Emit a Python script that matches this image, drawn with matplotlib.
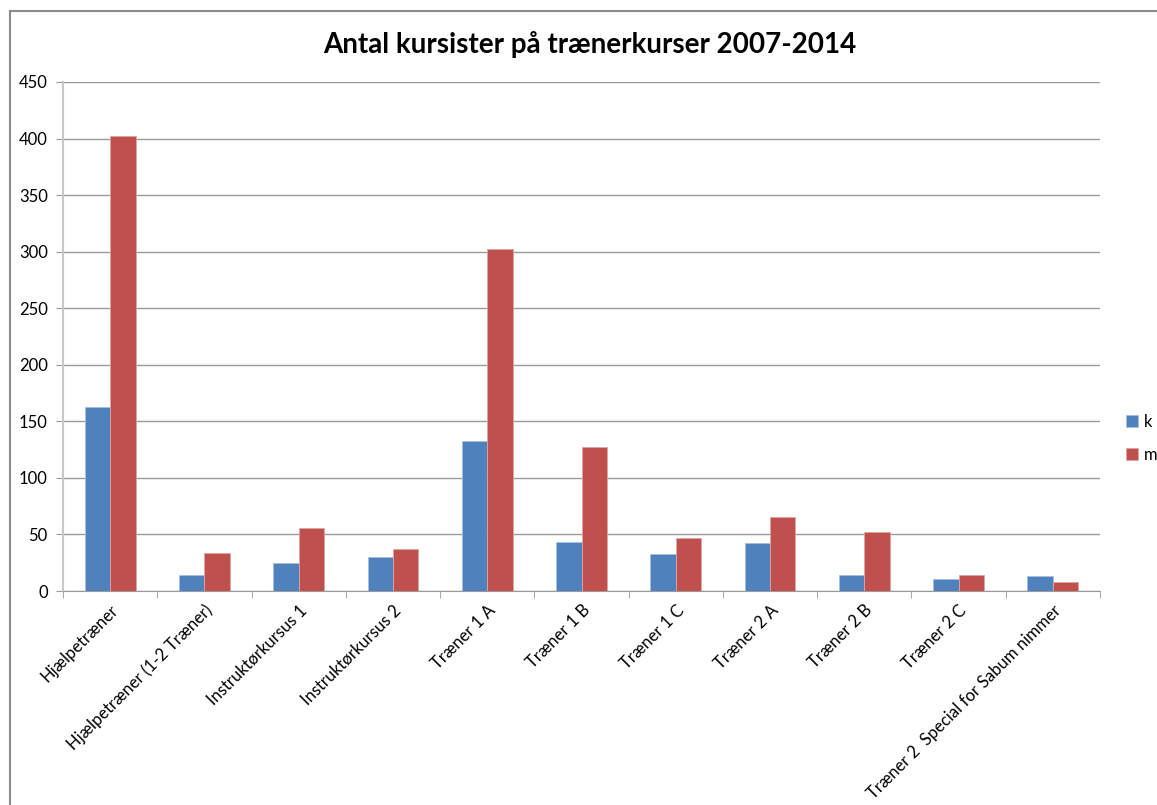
import matplotlib.pyplot as plt
import numpy as np
from matplotlib.lines import Line2D

plt.rcParams['font.family'] = ['Lato', 'DejaVu Sans']

# Data
categories = ['Hjælpetræner', 'Hjælpetræner (1-2 Træner)', 'Instruktørkursus 1',
              'Instruktørkursus 2', 'Træner 1 A', 'Træner 1 B', 'Træner 1 C',
              'Træner 2 A', 'Træner 2 B', 'Træner 2 C',
              'Træner 2  Special for Sabum nimmer']
k_values = [163, 14, 25, 30, 133, 43, 33, 42, 14, 11, 13]
m_values = [402, 34, 56, 37, 302, 127, 47, 65, 52, 14, 8]

W, H = 1157, 805
fig = plt.figure(figsize=(W / 100, H / 100), dpi=100)
ax = fig.add_axes([63 / W, 1 - 591 / H, (1100 - 63) / W, (591 - 82) / H])

x = np.arange(len(categories))
width = 0.27
ax.bar(x - width / 2, k_values, width, color='#4f81bd', label='k',
       edgecolor='#a7bfdf', linewidth=0.6, zorder=3)
ax.bar(x + width / 2, m_values, width, color='#c0504d', label='m',
       edgecolor='#e0a5a3', linewidth=0.6, zorder=3)

ax.set_xlim(-0.5, len(categories) - 0.5)
ax.set_ylim(0, 450)
ax.set_yticks(np.arange(0, 451, 50))
ax.yaxis.grid(True, color='#9a9a9a', linewidth=1.0, zorder=0)
ax.set_axisbelow(True)

ax.set_xticks(x)
ax.set_xticklabels(categories, rotation=45, ha='right', rotation_mode='anchor',
                   fontsize=12)
ax.set_xticks(np.arange(-0.5, len(categories), 1), minor=True)
ax.tick_params(axis='x', which='major', length=0, pad=8)
ax.tick_params(axis='x', which='minor', length=5, color='#9a9a9a')
ax.tick_params(axis='y', length=5, color='#9a9a9a', labelsize=12, pad=6)

for side in ['top', 'right']:
    ax.spines[side].set_visible(False)
ax.spines['left'].set_color('#c8c8c8')
ax.spines['left'].set_linewidth(1.5)
ax.spines['bottom'].set_color('#9a9a9a')

fig.suptitle('Antal kursister på trænerkurser 2007-2014', fontsize=20,
             fontweight='bold', x=590 / W, y=1 - 45 / H, va='center')

ax.legend(loc='center left', bbox_to_anchor=(1.025, 0.30), frameon=False,
          fontsize=12, handlelength=0.7, handleheight=0.7, labelspacing=1.0,
          handletextpad=0.4, borderaxespad=0, borderpad=0)

# chart border
fig.add_artist(Line2D([10 / W, 1], [1 - 11 / H, 1 - 11 / H], color='#8c8c8c',
                      linewidth=1.5, transform=fig.transFigure))
fig.add_artist(Line2D([10 / W, 10 / W], [0, 1 - 11 / H], color='#8c8c8c',
                      linewidth=1.5, transform=fig.transFigure))

plt.savefig('out.png', dpi=100)
